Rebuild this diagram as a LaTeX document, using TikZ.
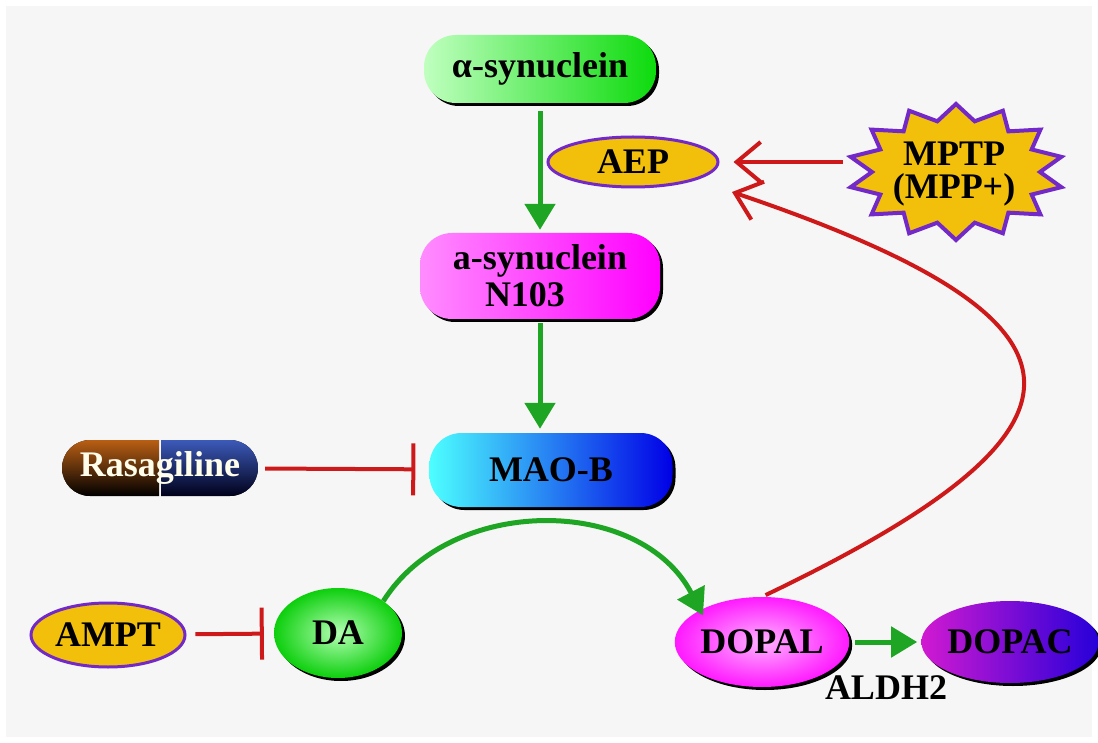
\documentclass[tikz,border=0pt]{standalone}
\usepackage{fontspec}
\setmainfont{Liberation Serif}
\usepackage{xcolor}
\usepackage{tikz}
\usetikzlibrary{shapes.geometric, arrows.meta, shadows}
\definecolor{pagefill}{RGB}{246,246,246}
\definecolor{actgreen}{RGB}{30,165,35}
\definecolor{inhred}{RGB}{205,25,25}
\definecolor{goldfill}{RGB}{242,192,10}
\definecolor{rimpurple}{RGB}{115,40,200}
\definecolor{pillbrown}{RGB}{185,95,20}
\definecolor{pillblue}{RGB}{60,90,185}
\tikzset{
    molfont/.style={
        font=\fontsize{36}{38}\selectfont\bfseries
    },
    pill/.style={
        rectangle,
        rounded corners=32pt,
        inner sep=0pt,
        text centered,
        molfont,
        drop shadow={shadow xshift=3pt, shadow yshift=-3pt, opacity=1, fill=black}
    },
    blob/.style={
        ellipse,
        inner sep=0pt,
        text centered,
        molfont,
        drop shadow={shadow xshift=3pt, shadow yshift=-3pt, opacity=1, fill=black}
    },
    drugoval/.style={
        ellipse,
        draw=rimpurple,
        line width=3pt,
        fill=goldfill,
        inner sep=0pt,
        molfont
    },
    activation/.style={
        draw=actgreen,
        line width=5pt,
        -{Triangle[width=30pt,length=26pt]}
    },
    inhibition/.style={
        draw=inhred,
        line width=4pt,
        -{Bar[width=52pt]}
    },
    induction/.style={
        draw=inhred,
        line width=4pt,
        -{Straight Barb[width=40pt,length=24pt,line width=4pt]}
    }
}

\begin{document}
\begin{tikzpicture}[x=1pt, y=-1pt]
\fill[white] (0,0) rectangle (1098,743);
\fill[pagefill] (6,6) rectangle (1092,737);
\useasboundingbox (0,0) rectangle (1098,743);

% upstream
\node[pill, minimum width=232pt, minimum height=68pt, left color=green!25!white, right color=green!85!black!95] (asyn) at (540,69) {α-synuclein};
\node[pill, minimum width=240pt, minimum height=86pt, align=center, left color=magenta!45!white, right color=magenta, font=\fontsize{36}{37}\selectfont\bfseries] (n103) at (540,276) {a-synuclein\\N103\hspace*{30pt}};
\node[pill, minimum width=243pt, minimum height=74pt, left color=cyan!70!white, right color=blue!90!black] (maob) at (551,470) {MAO-B};

% drug pill
\node[rectangle, rounded corners=28pt, minimum width=196pt, minimum height=56pt, inner sep=0pt, molfont, text=white!92!yellow,
  path picture={
    \fill[sharp corners, top color=pillbrown, bottom color=black] (path picture bounding box.north west) rectangle ([xshift=-1pt]path picture bounding box.south);
    \fill[sharp corners, top color=pillblue, bottom color=black!90!blue] ([xshift=1pt]path picture bounding box.north) rectangle (path picture bounding box.south east);
  }] (rasa) at (160,468) {Rasagiline};

% AEP and MPTP
\node[drugoval, minimum width=170pt, minimum height=50pt] (aep) at (633,162) {AEP};
\fill[goldfill, draw=rimpurple, line width=4pt, line join=miter]
  plot[samples=29, domain=0:28, variable=\k]
  ({956+ifthenelse(mod(\k,2)==0,108,84)*cos(90+\k*360/28)},
   {172-ifthenelse(mod(\k,2)==0,68,52)*sin(90+\k*360/28)}) -- cycle;
\node[align=center, inner sep=0pt, minimum width=212pt, minimum height=134pt, font=\fontsize{36}{33}\selectfont\bfseries] (mptp) at (954,174) {MPTP\\(MPP+)};

% dopamine metabolism
\node[drugoval, minimum width=154pt, minimum height=64pt] (ampt) at (108,635) {AMPT};
\node[blob, minimum width=128pt, minimum height=90pt, inner color=green!30!white, outer color=green!80!black!95] (da) at (338,633) {DA};
\node[blob, minimum width=150pt, minimum height=90pt, inner color=magenta!30!white, outer color=magenta!90!white] (dopal) at (762,642) {DOPAL};
\node[blob, minimum width=155pt, minimum height=82pt, left color=magenta!80!black!90, right color=blue!70!violet] (dopac) at (1010,642) {DOPAC};
\node[molfont, inner sep=0pt] (aldh) at (886,688) {ALDH2};

\coordinate (aepin) at (732,192);

\draw[activation, shorten <=8pt, shorten >=3pt] (asyn.south) -- (asyn.south |- n103.north);
\draw[activation, shorten <=4pt, shorten >=4pt] (n103.south) -- (n103.south |- maob.north);
\draw[inhibition, shorten <=7pt, shorten >=14pt] (rasa) -- (maob);
\draw[inhibition, shorten <=9pt, shorten >=10pt] (ampt) -- (da);
\draw[activation, shorten >=-6pt] (da.north east) .. controls (450,495) and (640,495) .. (dopal.north west);
\draw[activation, shorten <=6pt, shorten >=4pt] (dopal) -- (dopac);
\draw[induction, shorten <=5pt, shorten >=14pt] (mptp.west |- aep.east) -- (aep.east);
\draw[induction, shorten <=4pt] (dopal.north) .. controls (1110,430) and (1120,323) .. (aepin);
\end{tikzpicture}
\end{document}
